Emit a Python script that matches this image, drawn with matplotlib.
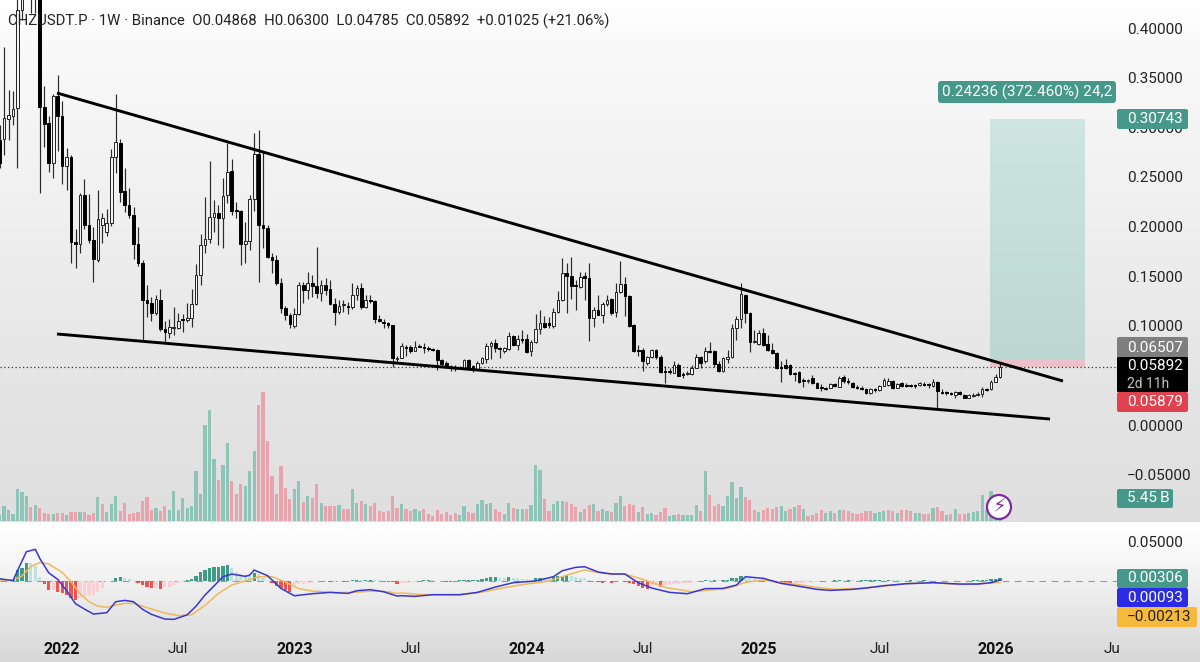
import numpy as np
import matplotlib
matplotlib.use("Agg")
import matplotlib.pyplot as plt
from matplotlib.patches import FancyBboxPatch, Rectangle, Circle
from matplotlib.ticker import FuncFormatter
from matplotlib.colors import LinearSegmentedColormap

plt.rcParams['font.family'] = ['Roboto', 'DejaVu Sans']

# prices in thousandths of USDT, one per weekly candle
opens_m = [287,288,308,311,319,418,470,500,480,520,
 320,304,264,331,311,261,270,184,182,232,
 202,186,166,202,194,204,270,284,236,222,
 212,182,163,126,123,113,126,97,93,98,
 98,107,106,108,122,151,181,187,210,214,
 209,232,256,217,216,182,185,228,273,202,
 198,169,166,143,118,111,100,112,141,136,
 143,140,133,141,137,122,114,121,120,119,
 131,138,119,126,125,107,104,103,101,67,
 68,79,79,75,80,79,78,77,76,65,
 62,58,58,57,57,65,59,56,62,67,
 80,83,78,75,77,90,81,87,87,75,
 84,97,103,103,100,114,126,153,150,141,
 139,150,148,108,116,111,122,127,114,134,
 142,130,101,76,76,62,69,76,69,54,
 54,52,60,51,51,51,57,69,64,75,
 75,61,54,67,69,98,107,131,113,84,
 82,93,82,76,73,58,60,60,52,53,
 45,44,47,42,38,37,37,41,38,48,
 44,42,38,37,36,32,36,35,39,40,
 44,37,42,40,40,40,40,41,41,39,
 43,33,33,32,30,33,30,27,29,30,
 31,36,36,43,48.68]
highs_m = [302,381,338,337,438,468,520,540,560,560,
 342,311,334,353,326,279,272,197,234,248,
 233,199,237,214,218,278,333,288,259,239,
 220,199,166,141,129,131,137,105,107,119,
 113,112,123,137,162,192,230,266,227,222,
 249,284,268,225,217,205,232,294,297,275,
 202,173,171,148,120,113,118,144,144,154,
 151,179,146,148,146,128,126,126,124,143,
 141,143,131,131,126,111,107,104,101,70,
 83,81,81,85,82,83,80,78,77,66,
 64,60,60,59,66,66,60,64,69,83,
 85,87,79,79,94,91,91,96,92,86,
 112,116,110,109,118,135,168,163,169,146,
 154,154,163,119,131,124,131,128,143,165,
 149,131,102,81,78,70,77,77,71,59,
 57,64,62,53,54,60,72,70,79,84,
 76,64,69,76,102,110,143,132,114,96,
 96,98,91,83,74,64,66,61,53,54,
 47,46,50,43,41,38,42,42,49,50,
 47,43,40,39,37,37,37,40,47,47,
 45,42,43,42,41,41,43,43,42,46,
 44,36,34,33,34,34,31,31,32,33,
 38,37,45,51,63]
lows_m = [259,272,287,302,259,408,440,415,415,234,
 280,255,249,276,243,237,163,158,173,197,
 183,144,164,183,190,201,254,225,215,209,
 167,160,86,109,105,111,95,83,88,91,
 97,94,104,99,121,141,173,183,194,181,
 178,224,212,209,161,163,176,216,144,178,
 168,153,141,113,106,98,98,111,123,127,
 129,128,125,131,121,101,112,114,112,117,
 126,117,118,123,103,104,98,98,58,62,
 68,70,73,75,79,73,75,75,55,58,
 58,54,54,56,57,57,53,55,61,62,
 66,74,68,73,76,80,76,83,73,70,
 83,92,98,98,98,113,125,113,127,116,
 138,126,85,99,111,103,120,111,109,133,
 110,99,74,70,54,60,68,67,52,42,
 51,52,49,47,50,50,57,57,62,73,
 58,53,53,62,68,86,98,103,74,83,
 81,80,75,72,56,43,56,50,44,42,
 38,42,41,37,34,35,37,38,38,42,
 41,37,36,35,31,31,33,34,39,39,
 36,37,38,38,38,37,39,39,37,38,
 17,31,30,30,27,30,27,27,28,29,
 28,34,35,43,47.85]
closes_m = [264,309,312,318,418,448,500,480,520,320,
 303,264,331,311,261,270,184,182,232,202,
 186,167,208,209,204,270,285,235,222,212,
 182,163,126,123,113,127,97,94,99,99,
 105,106,108,122,151,181,187,210,214,209,
 231,255,216,216,182,185,228,273,202,198,
 169,166,143,118,111,102,112,141,136,143,
 140,133,141,136,122,114,120,122,119,131,
 138,119,126,125,107,105,103,101,68,68,
 80,78,75,79,79,78,77,76,65,61,
 58,57,57,58,65,58,56,62,68,80,
 83,78,77,78,90,81,87,86,74,84,
 97,103,99,101,114,126,153,150,140,140,
 149,148,108,116,111,122,126,113,134,142,
 130,100,75,75,64,69,76,69,53,53,
 53,60,49,50,52,57,69,62,75,74,
 61,54,68,69,98,107,132,113,84,85,
 93,81,76,73,57,57,57,51,51,43,
 44,45,42,37,37,36,41,39,47,44,
 43,38,37,36,32,36,35,39,45,44,
 37,41,39,39,39,39,42,40,40,43,
 34,32,32,31,33,31,27,30,30,31,
 36,35,43,48,58.92]

# volume in billions
volumes_b = [1.5,3.75,2.75,1.75,8,7.25,6.25,3.5,4,3.25,
 2,1.75,1.75,2,2,1.5,2.25,2.25,2.25,2.25,
 1.5,2,6,4.25,2.25,4.25,6.25,2.5,4.5,1.75,
 2,2.25,5,6,2.75,3.25,2.5,3.75,2.75,7.5,
 2.75,5.75,3.25,3.75,12.5,6.75,24,27.75,15.5,10.25,
 14,19.5,10,6.75,9.25,8.75,12.5,17.5,29,32.25,
 20,11.25,6.75,13.75,8.25,5.5,8,10,4.75,6.25,
 5.75,9.25,4.5,3.75,3.75,3.75,4,3,3,8,
 4.5,5,4.25,3.75,4.5,2.5,2.25,2.5,6.25,3.25,
 4.25,3,2.5,3,2.5,3,1.75,1.25,2.75,1.75,
 2.25,1.5,2,1.5,3.75,2.25,2,4.25,5.25,4.25,
 4.5,3,2.25,1.75,4.5,3.25,3,3,3,4,
 14,12.75,5.5,2.5,4.25,5,5,4.75,4.25,3.5,
 2.25,3,4,4.25,2.5,3,2.5,2.25,4.5,6.25,
 3.75,4.25,4,2.25,3.5,1.75,2,1.5,2.25,3.25,
 1.25,1.5,1.75,1.5,1.5,1.5,4,2.5,12.5,6.5,
 3.75,4.25,3.75,6.25,9.75,5.75,8.5,6,5.25,2.75,
 2.25,2.75,3.25,3,3.5,3.75,2.5,3,3.5,4,
 3,1.25,1.5,2,2.75,2,2.5,2,2.75,2.75,
 2.5,2,1.75,2,2.5,2.5,2,2.25,2.5,2.75,
 2.5,2,2.75,2.75,2.5,2,2,1.75,1.75,3.25,
 3.5,2.5,1.5,1.75,3,1.75,1.75,2,2.25,2.5,
 6.5,2.75,7.5,3.5,5.45]
volume_dirs = ("gggggggrgr" "rrgrrgrrgr" "rrgrgggrrr" "rrrrrgrrgg" "gggggggggr"
 "ggrrrgggrr" "rrrrrrggrg" "rrgrrrgrrg" "grgrrrrrrr" "grrggrrrrr"
 "rrrggrrggg" "grrggrggrg" "ggrrgggrrr" "grrgrggrgg" "rrrgrggrrr"
 "ggrggggrgr" "rrgggggrrr" "grrrrggrgr" "grrrrggrgr" "rrrrrrgggr"
 "rgrrrggrrg" "rrgrgrrggg" "ggggg")

# MACD pane, thousandths
hist_m = [0,0,0,2,14,15.5,22.7,21.8,18.5,5,
 -4.6,-11.8,-11.8,-13.9,-16,-18,-22.3,-24.4,-22.3,-21,
 -19.3,-18,-13.9,-9.7,-1.3,-0.5,3,4.2,3,1.7,
 0,-3.4,-5.5,-8.4,-9.7,-9.7,-10,-8.4,-7.6,-5.5,
 -2.5,-1.3,0.8,1.7,5.9,10.5,13.4,16.4,17.2,17.6,
 18,19.3,15.5,11.3,8.4,7.1,5.9,9.2,8,3.8,
 0.8,-3.4,-6.7,-9.7,-11.8,-14.3,-7.6,-4.6,-4.2,-3.4,
 -2.5,-0.8,-0.6,-0.4,-1.7,-1.7,-1.3,-1.4,-0.4,0.8,
 0.8,0.4,1.3,1.4,0.8,0.4,-0.8,-1.7,-2.1,-4.6,
 -3.4,-2.5,-2,-1.5,-1,0.4,0.8,0.4,-0.4,-1,
 -1.5,-1.7,-0.5,0.3,0.6,0.8,1,1.5,2.5,3.5,
 4.5,4.7,4,3.5,5,4,3,2.5,2,1.5,
 3,4,3,2.5,5,6,6.5,7.5,6,5,
 4,3,0.5,-0.5,-2,-3,-1,-3,-1,-0.8,
 -1.5,-2.5,-4.5,-6.5,-9,-10,-7,-5,-8.4,-6,
 -5,-4.5,-4,-3.5,-3,-2.5,-2,-1,0.4,0.3,
 0.8,0.6,0.8,1.5,3,4,6,4,3,2,
 1.5,0.5,-1,-1.5,-2.5,-3,-3.5,-4,-3.6,-3,
 -2.5,-2,-1.5,-1.2,-1,-0.6,-0.3,0.3,0.5,0.4,
 0.5,0.3,0.2,0.4,0.6,0.7,0.8,0.9,0.7,0.8,
 0.6,0.5,0.3,0.2,0.6,0.4,0.2,0.5,0.3,-0.3,
 -0.5,-0.8,-0.4,-0.8,-0.5,-0.7,-0.3,0.2,0.4,0.5,
 0.8,1.2,1.8,2.5,3.06]
macd_idx = [0,3,4,6,8,9,11,13,15,17,19,21,24,26,28,30,32,34,37,39,42,44,46,48,50,52,55,56,57,60,63,66,70,74,78,80,83,86,89,
 90,93,97,103,107,111,115,120,124,126,129,131,134,137,140,143,146,150,154,158,162,165,167,171,175,179,183,186,191,194,198,203,209,215,219,222,224]
macd_m = [2.5,0,12.6,36.5,39.5,28,10,1.7,-12.6,-29,-35.7,-42,-40.3,-26.5,-24.8,-26.5,-36,-42.4,-48.3,-48.7,-43,-32,-18,-6.7,5,8.4,5.5,7,13.4,6.3,-9.7,-19,-16.4,-14.7,-16,-12.6,-11.3,-13.9,-19.3,
 -18.9,-19.7,-17.6,-17.6,-14.7,-8,-2.5,-0.4,5,12.6,16.8,17.6,11,8.4,8.4,-2.5,-9.2,-14.7,-16.4,-10,-9.7,-5.5,5,3,-3.4,-7,-10.9,-12.2,-10.9,-9.2,-6.3,-3.8,-2.5,-4.2,-4.2,-2.5,0.93]
signal_idx = [0,3,5,7,9,11,14,16,18,20,22,24,26,28,30,34,37,40,43,46,49,52,55,58,61,64,67,70,75,79,84,87,89,
 90,95,103,108,113,118,123,127,131,135,140,144,149,155,163,167,171,175,179,183,187,194,203,209,215,219,224]
signal_m = [0.8,0.8,5.9,17.6,23,21,10.5,-1.3,-16,-26.5,-32,-33.6,-30.7,-28.6,-28.6,-35.7,-40.7,-44,-43,-31,-16,-5.5,-0.4,5,5,-1.7,-10,-13,-15,-14.7,-13,-13.9,-16,
 -15.5,-17.6,-18,-14.3,-8.8,-4.2,-0.4,7,13.4,9.2,8.4,1.7,-8.4,-13.9,-9.7,-2.1,0.8,-2.5,-5,-8.4,-10.9,-9.2,-3.8,-2.5,-5,-4.2,-2.13]

# drawing tools: trend lines and the long position
upper_line_k = [12.85, 238.1]
upper_line_p = [0.3345, 0.0443]
lower_line_k = [12.85, 235.2]
lower_line_p = [0.0917, 0.0060]
take_profit, entry, stop = 0.30743, 0.06507, 0.05879
box_k = (221.8, 243.0)
last_price = 0.05892

tick_idx = [14, 40, 66, 92, 118, 144, 170, 197, 223, 249]
tick_txt = ['2022', 'Jul', '2023', 'Jul', '2024', 'Jul', '2025', 'Jul', '2026', 'Ju']
price_ticks = [-0.05, 0, 0.10, 0.15, 0.20, 0.25, 0.30, 0.35, 0.40]

opens = np.array(opens_m) / 1000
highs = np.array(highs_m) / 1000
lows = np.array(lows_m) / 1000
closes = np.array(closes_m) / 1000
k = np.arange(len(opens))

W, H = 1200, 662
fig = plt.figure(figsize=(12, 6.62), dpi=100)

def rect(x0, y0, x1, y1):
    return [x0 / W, 1 - y1 / H, (x1 - x0) / W, (y1 - y0) / H]

# background gradients
bg = fig.add_axes([0, 0, 1, 1], zorder=0)
rows = np.arange(H)
shade = np.where(rows < 522,
                 np.interp(rows, [0, 40, 220, 400, 522], [1.0, 0.975, 0.935, 0.89, 0.87]),
                 np.interp(rows, [522, 560, 662], [1.0, 0.965, 0.84]))
bg.imshow(shade[:, None], cmap='gray', vmin=0, vmax=1, aspect='auto', extent=[0, W, H, 0])
bg.axis('off')

XLIM = (0.09, 250.2)
PANE_R = 1117

# volume
vax = fig.add_axes(rect(0, 360, PANE_R, 520.5), zorder=1)
vax.patch.set_alpha(0)
vcol = ['#8fc4b8' if d == 'g' else '#e8a3ac' for d in volume_dirs]
vax.bar(k, volumes_b, width=0.72, color=vcol, linewidth=0)
vax.set_xlim(*XLIM)
vax.set_ylim(0, 160.5 / 4)
vax.axis('off')

# price pane
ax = fig.add_axes(rect(0, 0, PANE_R, 520.5), zorder=2)
ax.patch.set_alpha(0)
grad = np.linspace(0, 1, 50)[:, None]
cm = LinearSegmentedColormap.from_list('box', ['#cee5e0', '#bcd7d2'])
ax.imshow(grad, cmap=cm, aspect='auto', extent=[box_k[0], box_k[1], entry, take_profit], origin='upper', zorder=1)
ax.add_patch(Rectangle((box_k[0], stop), box_k[1] - box_k[0], entry - stop, fc='#ecc1c9', ec='none', zorder=1))
ax.axhline(last_price, color='#333333', lw=0.9, ls=(0, (1, 2)), zorder=2)
ax.vlines(k, lows, highs, color='#2a2a2a', lw=0.85, zorder=3)
up = closes >= opens
ax.bar(k[up], (closes - opens)[up], bottom=opens[up], width=0.6, facecolor='#f4f4f4', edgecolor='#222222', linewidth=0.7, zorder=4)
ax.bar(k[~up], (closes - opens)[~up], bottom=opens[~up], width=0.6, facecolor='#000000', edgecolor='#000000', linewidth=0.7, zorder=4)
ax.plot(upper_line_k, upper_line_p, color='#000000', lw=2.1, zorder=5, solid_capstyle='butt')
ax.plot(lower_line_k, lower_line_p, color='#000000', lw=2.1, zorder=5, solid_capstyle='butt')
ax.set_xlim(*XLIM)
ax.set_ylim(-95.5 / 992.5, 0.4 + 28 / 992.5)
ax.set_xticks([])
ax.yaxis.tick_right()
ax.set_yticks(price_ticks)
ax.yaxis.set_major_formatter(FuncFormatter(lambda v, _: f"{v:.5f}".replace('-', '\u2212')))
ax.tick_params(axis='y', length=0, pad=7.2, labelsize=11, labelcolor='#222222')
for s in ax.spines.values():
    s.set_visible(False)

# MACD pane
mac = fig.add_axes(rect(0, 522, PANE_R, 632), zorder=2)
mac.patch.set_alpha(0)
h = np.array(hist_m) / 1000
prev = np.concatenate([[0], h[:-1]])
hcol = [('#3f9a86' if a >= b else '#bfe3dc') if a >= 0 else ('#ef5350' if a < b else '#fbd0d4') for a, b in zip(h, prev)]
mac.bar(k, h, width=0.72, color=hcol, linewidth=0, zorder=2)
mac.axhline(0, color='#9a9a9a', lw=0.8, ls=(0, (6, 5)), zorder=1)
mac.plot(signal_idx, np.array(signal_m) / 1000, color='#efb95a', lw=1.1, zorder=3)
mac.plot(macd_idx, np.array(macd_m) / 1000, color='#3a36d0', lw=1.1, zorder=4)
mac.set_xlim(*XLIM)
mac.set_ylim(-(632 - 580.7) / 794, (580.7 - 522) / 794)
mac.yaxis.tick_right()
mac.set_yticks([0.05])
mac.yaxis.set_major_formatter(FuncFormatter(lambda v, _: f"{v:.5f}"))
mac.tick_params(axis='y', length=0, pad=7.2, labelsize=11, labelcolor='#222222')
mac.set_xticks(tick_idx)
mac.set_xticklabels(tick_txt)
mac.tick_params(axis='x', length=0, pad=7, labelsize=11, labelcolor='#222222')
for lab, t in zip(mac.get_xticklabels(), tick_txt):
    if t.isdigit():
        lab.set_fontweight('bold')
        lab.set_fontsize(11.5)
        lab.set_color('#111111')
for s in mac.spines.values():
    s.set_visible(False)

# overlay in pixels: header and badges
ov = fig.add_axes([0, 0, 1, 1], zorder=5)
ov.patch.set_alpha(0)
ov.set_xlim(0, W)
ov.set_ylim(H, 0)
ov.axis('off')

ov.text(8, 21.5, "CHZUSDT.P \u00b7 1W \u00b7 Binance  O0.04868  H0.06300  L0.04785  C0.05892  +0.01025 (+21.06%)",
        fontsize=10.7, color='#222222', va='center', ha='left')

def badge(x0, y0, x1, y1, color, text, tcolor='#ffffff', fs=11, tx=None, rad=2):
    ov.add_patch(FancyBboxPatch((x0 + rad, y0 + rad), x1 - x0 - 2 * rad, y1 - y0 - 2 * rad,
                                boxstyle=f"round,pad={rad},rounding_size={rad}", fc=color, ec='none', zorder=3))
    ov.text(x0 + 10 if tx is None else tx, (y0 + y1) / 2, text, color=tcolor, fontsize=fs, va='center', ha='left', zorder=4)

GREEN = '#46998a'
badge(938, 81, 1116, 103, GREEN, "0.24236 (372.460%) 24,2", fs=11, tx=942.5, rad=3)
badge(1117, 109, 1188, 129, GREEN, "0.30743")
badge(1117, 337, 1188, 358, '#7f7f7f', "0.06507")
badge(1117, 357, 1188, 392, '#000000', "0.05892", rad=1)
ov.texts[-1].set_position((1127, 366))
ov.text(1127, 384, "2d 11h", color='#c4c4c4', fontsize=10, va='center', ha='left', zorder=5)
badge(1117, 392, 1188, 412, '#e0434f', "0.05879")
badge(1117, 489, 1173, 508, GREEN, "5.45\u2009B")
badge(1117, 569, 1188, 588, GREEN, "0.00306")
badge(1117, 588, 1188, 607, '#2b2be6', "0.00093")
badge(1117, 607, 1197, 627, '#f6b93b', "\u22120.00213", tcolor='#222222')

# indicator icon
ov.add_patch(Circle((999, 507), 12, fc='#ffffff', ec='#7d2a9c', lw=1.6, zorder=6))
ov.text(999, 507, "\u26a1", color='#7d2a9c', fontsize=14, ha='center', va='center', family='DejaVu Sans', zorder=7)

fig.savefig("out.png", dpi=100)
